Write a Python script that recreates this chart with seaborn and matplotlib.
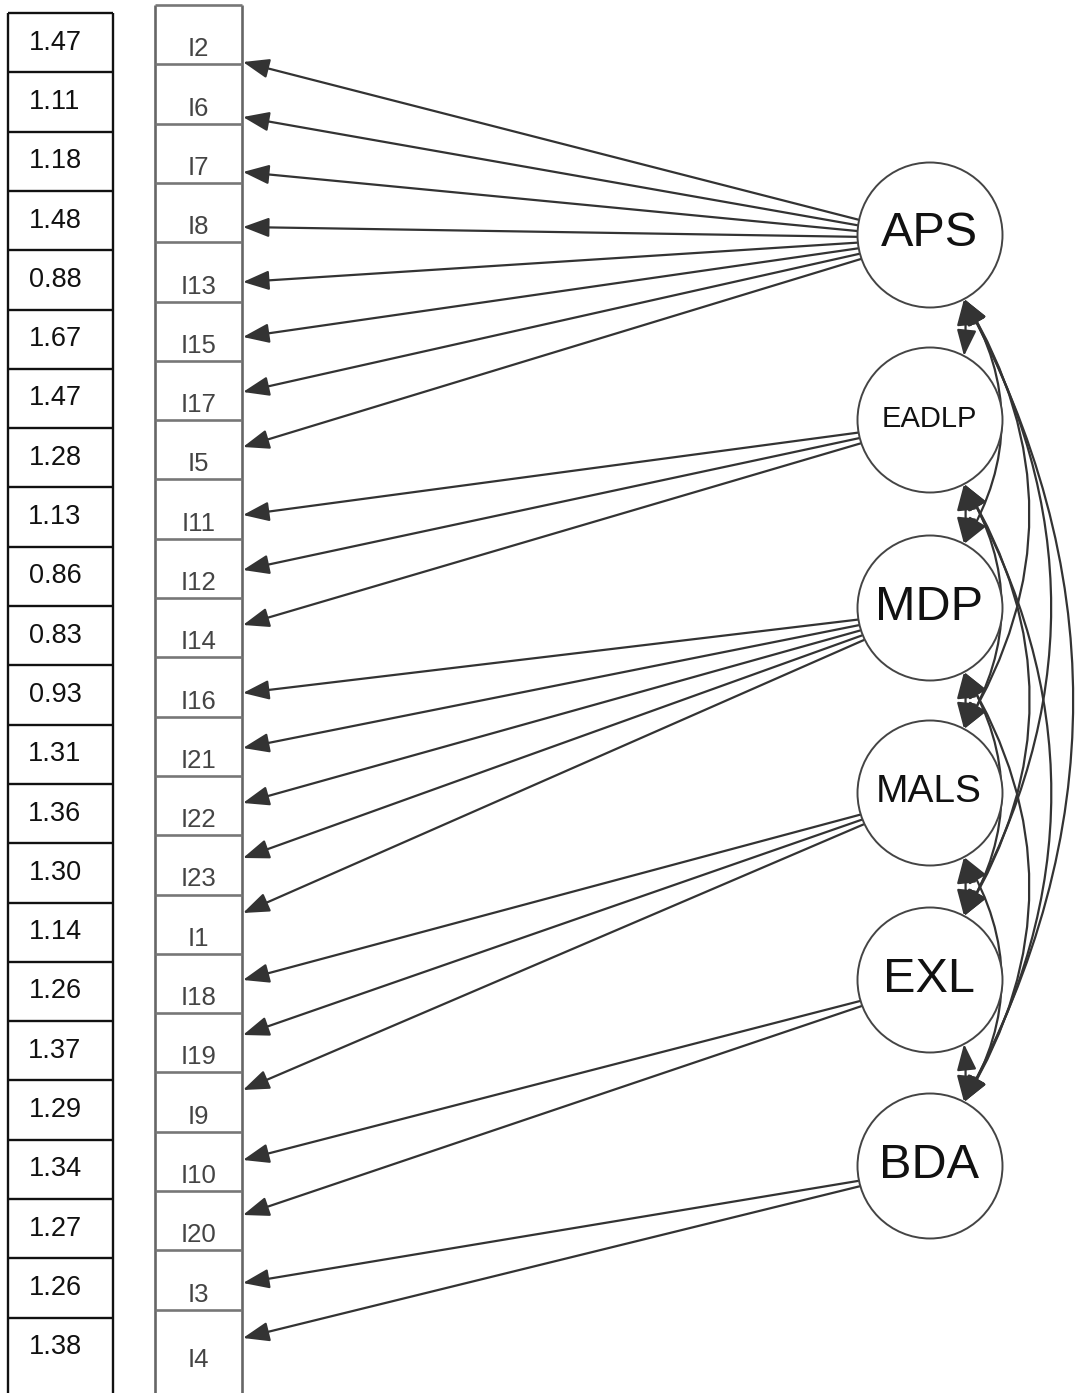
import numpy as np
import matplotlib
matplotlib.use("Agg")
import matplotlib.pyplot as plt
from matplotlib.patches import Circle, FancyArrowPatch
import seaborn as sns

# ---------------- data ----------------
values = [1.47, 1.11, 1.18, 1.48, 0.88, 1.67, 1.47, 1.28, 1.13, 0.86, 0.83, 0.93,
          1.31, 1.36, 1.30, 1.14, 1.26, 1.37, 1.29, 1.34, 1.27, 1.26, 1.38]
items = ["I2", "I6", "I7", "I8", "I13", "I15", "I17", "I5", "I11", "I12", "I14", "I16",
         "I21", "I22", "I23", "I1", "I18", "I19", "I9", "I10", "I20", "I3", "I4"]
factors = ["APS", "EADLP", "MDP", "MALS", "EXL", "BDA"]
item_factor = (["APS"] * 8 + ["EADLP"] * 3 + ["MDP"] * 5 + ["MALS"] * 3
               + ["EXL"] * 2 + ["BDA"] * 2)

# ---------------- layout / style ----------------
W, H = 1075, 1393
sns.set_theme(style="white")
plt.rcParams["font.family"] = ["Liberation Sans", "DejaVu Sans"]

fig = plt.figure(figsize=(W / 100, H / 100), dpi=100)
ax = fig.add_axes([0, 0, 1, 1])
ax.set_xlim(0, W)
ax.set_ylim(H, 0)
ax.axis("off")

ROW = 59.3
VAL_TOP, VAL_L, VAL_R = 13, 8, 113
ITEM_TOP, ITEM_L, ITEM_R = 5, 155, 242
n = len(items)

# value column
ax.plot([VAL_L, VAL_L], [VAL_TOP, H + 5], color="#111111", lw=1.7, solid_capstyle="butt")
ax.plot([VAL_R, VAL_R], [VAL_TOP, H + 5], color="#111111", lw=1.7, solid_capstyle="butt")
for k in range(n):
    y = VAL_TOP + ROW * k
    ax.plot([VAL_L, VAL_R], [y, y], color="#111111", lw=1.7, solid_capstyle="butt")
    ax.text(55, y + ROW / 2, f"{values[k]:.2f}", ha="center", va="center",
            fontsize=19.5, color="#111111")

# item column
ax.plot([ITEM_L, ITEM_L], [ITEM_TOP, H + 5], color="#666666", lw=1.9, solid_capstyle="butt")
ax.plot([ITEM_R, ITEM_R], [ITEM_TOP, H + 5], color="#666666", lw=1.9, solid_capstyle="butt")
for k in range(n):
    y = ITEM_TOP + ROW * k
    ax.plot([ITEM_L, ITEM_R], [y, y], color="#777777", lw=1.9, solid_capstyle="butt")
    bottom = y + ROW if k < n - 1 else y + ROW + 6
    ax.text(198.5, bottom - 15, items[k], ha="center", va="center",
            fontsize=18.5, color="#444444")

# latent factors
CX, R = 930, 72.5
fac_y = {"APS": 235, "EADLP": 420, "MDP": 608, "MALS": 793, "EXL": 980, "BDA": 1166}
fac_fs = {"APS": 35, "EADLP": 21, "MDP": 35, "MALS": 28, "EXL": 35, "BDA": 35}
for f in factors:
    ax.add_patch(Circle((CX, fac_y[f]), R, facecolor="white", edgecolor="#444444",
                        lw=1.4, zorder=5))
    ax.text(CX - 1, fac_y[f] - 1, f, ha="center", va="center", fontsize=fac_fs[f],
            color="#111111", zorder=6)

ARROW_COL = "#333333"
# loadings: arrow tips evenly spaced within each factor's group
tip_start = {"APS": 62, "EADLP": 515, "MDP": 693, "MALS": 980, "EXL": 1160, "BDA": 1283}
TIP_STEP = 55
counter = {f: 0 for f in factors}
for k, f in enumerate(item_factor):
    ty = tip_start[f] + TIP_STEP * counter[f]
    counter[f] += 1
    cy = fac_y[f] + 3
    vx, vy = ITEM_R - CX, ty - cy
    d = np.hypot(vx, vy)
    sx, sy = CX + R * vx / d, cy + R * vy / d
    ax.add_patch(FancyArrowPatch((sx, sy), (ITEM_R + 1, ty),
                                 arrowstyle="-|>,head_length=0.8,head_width=0.3",
                                 mutation_scale=20, color=ARROW_COL, lw=1.6,
                                 shrinkA=0, shrinkB=0, zorder=3))

# correlations between factors
ang = np.deg2rad(62)
rads = {1: -0.05, 2: -0.30, 3: -0.30, 4: -0.28, 5: -0.27}
for i in range(len(factors)):
    for j in range(i + 1, len(factors)):
        span = j - i
        a = (CX + R * np.cos(ang), fac_y[factors[i]] + R * np.sin(ang))
        b = (CX + R * np.cos(ang), fac_y[factors[j]] - R * np.sin(ang))
        ax.add_patch(FancyArrowPatch(a, b,
                                     arrowstyle="<|-|>,head_length=0.8,head_width=0.3",
                                     connectionstyle=f"arc3,rad={rads[span]}",
                                     mutation_scale=20, color=ARROW_COL, lw=1.6,
                                     shrinkA=0, shrinkB=0, zorder=4))

fig.savefig("out.png", dpi=100, facecolor="white")
